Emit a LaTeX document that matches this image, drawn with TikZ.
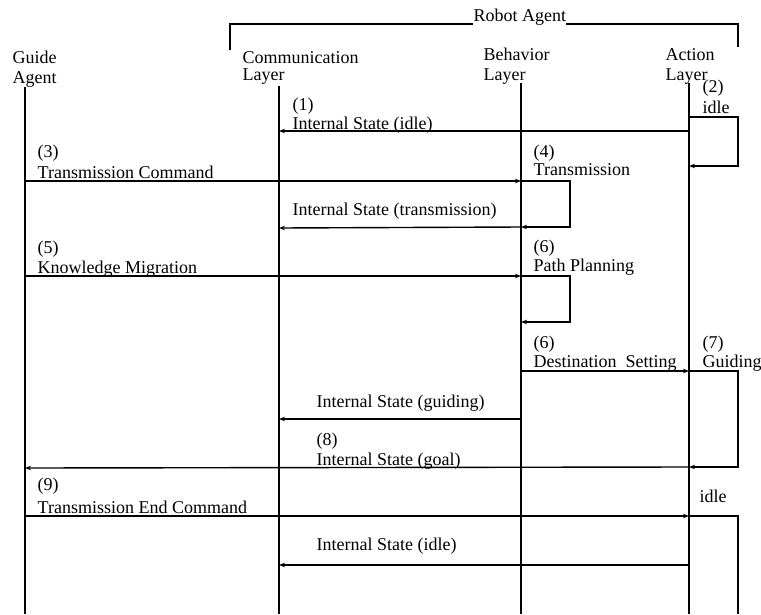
\documentclass[tikz,border=0pt]{standalone}
\usepackage{fontspec}
\setmainfont{Liberation Serif}
\usetikzlibrary{arrows.meta}
\begin{document}
\begin{tikzpicture}[x=1pt,y=-1pt,line width=1.4pt,
  lbl/.style={anchor=base west,inner sep=0pt,font=\fontsize{18}{19}\selectfont},
  msg/.style={-{Stealth[length=6pt,width=4.5pt]}},
  life/.style={line width=1.6pt}]
\useasboundingbox (0,0) rectangle (761,614);
% heads
\node[lbl] (guide1) at (12,63) {Guide};
\node[lbl] (guide2) at (12,83) {Agent};
\node[lbl] (comm1) at (242,63) {Communication};
\node[lbl] (comm2) at (242,80) {Layer};
\node[lbl] (beh1) at (483,60) {Behavior};
\node[lbl] (beh2) at (483,80) {Layer};
\node[lbl] (act1) at (665,60) {Action};
\node[lbl] (act2) at (665,80) {Layer};
\node[lbl] (robot) at (473,21) {Robot Agent};
% bracket
\coordinate (brA) at (230,50); \coordinate (brB) at (230,24);
\coordinate (brC) at (473,24); \coordinate (brD) at (566,24);
\coordinate (brE) at (738,24); \coordinate (brF) at (738,47);
\draw (brA) -- (brB) -- (brC);
\draw (brD) -- (brE) -- (brF);
% lifelines
\coordinate (gT) at (25,87);  \coordinate (gB) at (25,614);
\coordinate (cT) at (279,86); \coordinate (cB) at (279,614);
\coordinate (bT) at (521,83); \coordinate (bB) at (521,614);
\coordinate (aT) at (689,83); \coordinate (aB) at (689,614);
\draw[life] (gT) -- (gB);
\draw[life] (cT) -- (cB);
\draw[life] (bT) -- (bB);
\draw[life] (aT) -- (aB);
% (1)
\coordinate (a1) at (689,131); \coordinate (c1) at (279,131);
\draw[msg] (a1) -- (c1);
\node[lbl] (t1a) at (292,110) {(1)};
\node[lbl] (t1b) at (292,129) {Internal State (idle)};
% (2) idle loop
\coordinate (a2s) at (689,117); \coordinate (l2a) at (738,117);
\coordinate (l2b) at (738,166); \coordinate (a2e) at (689,166);
\draw[msg] (a2s) -- (l2a) -- (l2b) -- (a2e);
\node[lbl] (t2a) at (702,92) {(2)};
\node[lbl] (t2b) at (702,113) {idle};
% (3)
\coordinate (g3) at (25,181); \coordinate (b3) at (521,181);
\draw[msg] (g3) -- (b3);
\node[lbl] (t3a) at (37,157) {(3)};
\node[lbl] (t3b) at (37,178) {Transmission Command};
% (4) loop
\coordinate (l4a) at (570,181); \coordinate (l4b) at (570,227);
\coordinate (b4e) at (521,227);
\draw[msg] (b3) -- (l4a) -- (l4b) -- (b4e);
\node[lbl] (t4a) at (533,157) {(4)};
\node[lbl] (t4b) at (533,175) {Transmission};
% internal state (transmission)
\coordinate (c4) at (279,228);
\draw[msg] (b4e) -- (c4);
\node[lbl] (t4c) at (292,215) {Internal State (transmission)};
% (5)
\coordinate (g5) at (25,276); \coordinate (b5) at (521,276);
\draw[msg] (g5) -- (b5);
\node[lbl] (t5a) at (37,253) {(5)};
\node[lbl] (t5b) at (37,273) {Knowledge Migration};
% (6) path planning loop
\coordinate (l6a) at (570,276); \coordinate (l6b) at (570,322);
\coordinate (b6e) at (521,322);
\draw[msg] (b5) -- (l6a) -- (l6b) -- (b6e);
\node[lbl] (t6a) at (533,252) {(6)};
\node[lbl] (t6b) at (533,271) {Path Planning};
% (6) destination setting
\coordinate (b7) at (521,371); \coordinate (a7) at (689,371);
\draw[msg] (b7) -- (a7);
\node[lbl] (t7a) at (533,348) {(6)};
\node[lbl] (t7b) at (533,367) {Destination\hspace{9pt}Setting};
% (7) guiding loop
\coordinate (l7a) at (738,371); \coordinate (l7b) at (738,467);
\coordinate (a7e) at (689,467);
\draw[msg] (a7) -- (l7a) -- (l7b) -- (a7e);
\node[lbl] (t7c) at (702,348) {(7)};
\node[lbl] (t7d) at (702,367) {Guiding};
% internal state (guiding)
\coordinate (b8) at (521,419); \coordinate (c8) at (279,419);
\draw[msg] (b8) -- (c8);
\node[lbl] (t8) at (316,407) {Internal State (guiding)};
% (8)
\coordinate (g9) at (25,468);
\draw[msg] (a7e) -- (g9);
\node[lbl] (t9a) at (316,445) {(8)};
\node[lbl] (t9b) at (316,465) {Internal State (goal)};
% (9)
\coordinate (g10) at (25,516); \coordinate (a10) at (689,516);
\draw[msg] (g10) -- (a10);
\node[lbl] (t10a) at (37,490) {(9)};
\node[lbl] (t10b) at (37,513) {Transmission End Command};
% idle
\coordinate (l10a) at (738,516); \coordinate (l10b) at (738,614);
\draw (a10) -- (l10a) -- (l10b);
\node[lbl] (t10c) at (699,502) {idle};
% internal state (idle)
\coordinate (a11) at (689,565); \coordinate (c11) at (279,565);
\draw[msg] (a11) -- (c11);
\node[lbl] (t11) at (316,550) {Internal State (idle)};
\end{tikzpicture}
\end{document}
